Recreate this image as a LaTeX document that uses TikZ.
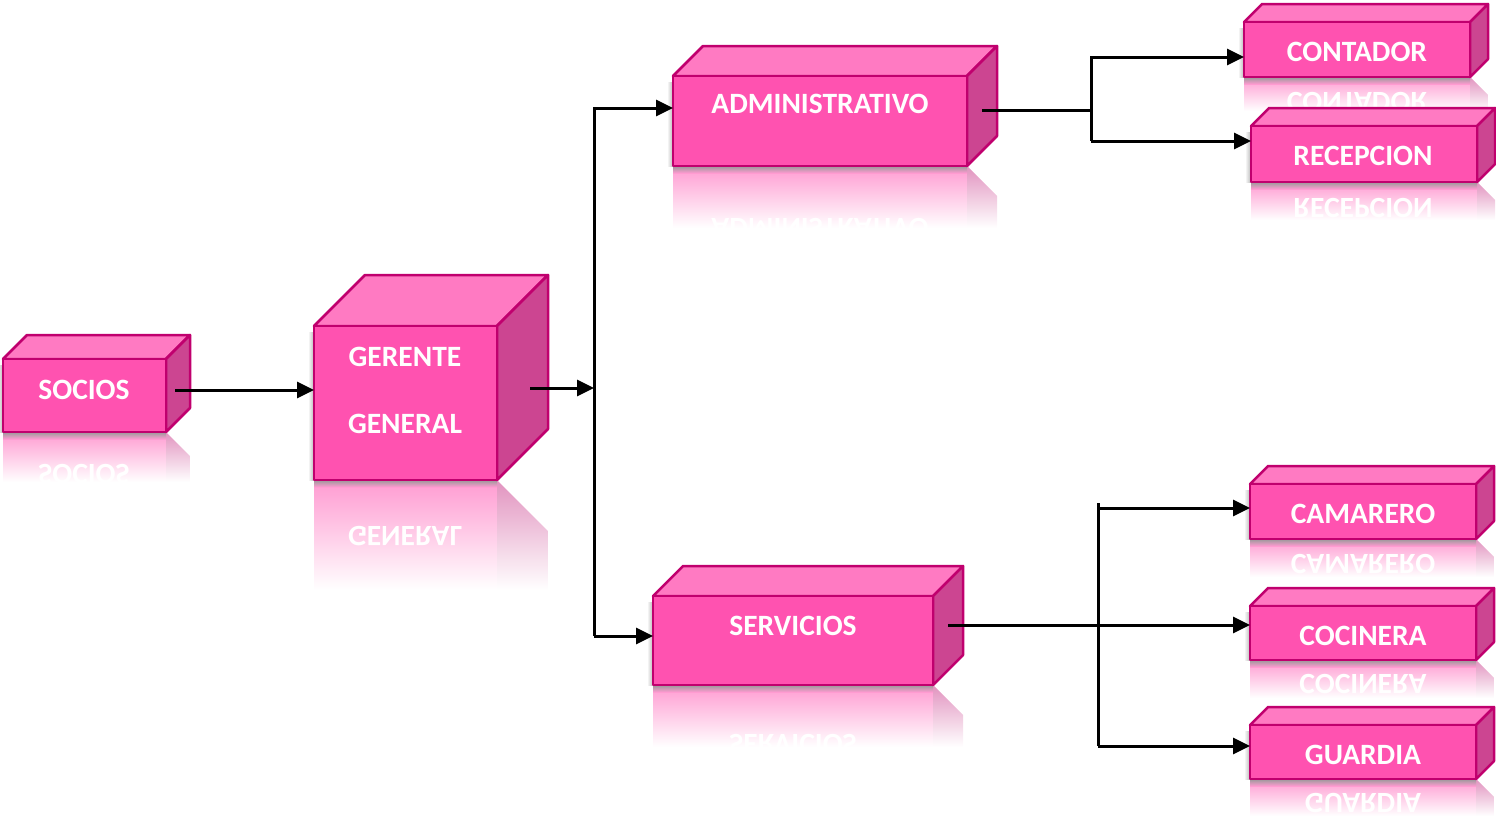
\documentclass[tikz,border=0pt]{standalone}
\usepackage{fontspec}
\setmainfont{Carlito}
\usetikzlibrary{arrows.meta}

\definecolor{frontc}{HTML}{FF52B0}
\definecolor{topc}{HTML}{FF7AC2}
\definecolor{sidec}{HTML}{CC4591}
\definecolor{edgec}{HTML}{C0006E}

\tikzset{
  face/.style={draw=edgec, line width=2.5pt, line join=round},
  lbl/.style={text=white, font=\bfseries\fontsize{29.5}{34}\selectfont, inner sep=0pt},
  mirrorlbl/.style={lbl, yscale=-1, transform shape},
  conn/.style={line width=3pt, draw=black, line join=miter},
  arr/.style={conn, -{Triangle[length=17pt,width=16pt]}},
}

% faded mirror image below a box: x1,y1,x2,y2,depth,fade length
\newcommand{\cubemirror}[6]{%
  \begin{scope}
    \clip (#1,#4) rectangle (#3,{2*#4-#2});
    \shade[top color=frontc!58, middle color=frontc!30, bottom color=white] (#1,#4) rectangle ({#3+#5},{#4+#6});
  \end{scope}
  \begin{scope}
    \clip (#3,#4) -- ({#3+#5},{#4+#5}) -- ({#3+#5},{2*#4-#2+#5}) -- (#3,{2*#4-#2}) -- cycle;
    \shade[top color=sidec!58, middle color=sidec!30, bottom color=white] (#1,#4) rectangle ({#3+#5},{#4+#6});
  \end{scope}
}

% box drawn as front, top and side faces: name,x1,y1,x2,y2,depth
\newcommand{\cubebody}[6]{%
  \shade[left color=white, right color=black!28] ({#2-6},{#3+6}) rectangle (#2,#5);
  \shade[top color=black!40, bottom color=frontc!58] (#2,#5) rectangle (#4,{#5+7});
  \path[face, fill=topc] (#2,#3) -- ({#2+#6},{#3-#6}) -- ({#4+#6},{#3-#6}) -- (#4,#3) -- cycle;
  \path[face, fill=sidec] (#4,#3) -- ({#4+#6},{#3-#6}) -- ({#4+#6},{#5-#6}) -- (#4,#5) -- cycle;
  \node[face, fill=frontc, inner sep=0pt, outer sep=0pt, anchor=north west,
        minimum width={#4-#2}, minimum height={#5-#3}] (#1) at (#2,#3) {};
}

\begin{document}
\begin{tikzpicture}[x=1pt, y=-1pt]
\useasboundingbox (0,0) rectangle (1496,817);

% reflections
\cubemirror{3}{359}{166}{432}{24}{50}
\cubemirror{314}{326}{497}{480}{51}{110}
\cubemirror{673}{76}{967}{166}{30}{62}
\cubemirror{1244}{22}{1470}{77}{18}{34}
\cubemirror{1251}{126}{1477}{182}{18}{38}
\cubemirror{653}{596}{933}{685}{30}{62}
\cubemirror{1250}{484}{1476}{539}{18}{38}
\cubemirror{1250}{606}{1476}{660}{18}{38}
\cubemirror{1250}{725}{1476}{779}{18}{37}

\node[mirrorlbl] (socm) at (84,474) {SOCIOS};
\node[mirrorlbl] (germ) at (405,536) {GENERAL};
\node[mirrorlbl] (admm) at (820,228) {ADMINISTRATIVO};
\node[mirrorlbl] (conm) at (1357,102) {CONTADOR};
\node[mirrorlbl] (recm) at (1363,208) {RECEPCION};
\node[mirrorlbl] (serm) at (793,744) {SERVICIOS};
\node[mirrorlbl] (camm) at (1363,564) {CAMARERO};
\node[mirrorlbl] (cocm) at (1363,684) {COCINERA};
\node[mirrorlbl] (guam) at (1363,803) {GUARDIA};

% boxes
\cubebody{soc}{3}{359}{166}{432}{24}
\cubebody{ger}{314}{326}{497}{480}{51}
\cubebody{adm}{673}{76}{967}{166}{30}
\cubebody{con}{1244}{22}{1470}{77}{18}
\cubebody{rec}{1251}{126}{1477}{182}{18}
\cubebody{ser}{653}{596}{933}{685}{30}
\cubebody{cam}{1250}{484}{1476}{539}{18}
\cubebody{coc}{1250}{606}{1476}{660}{18}
\cubebody{gua}{1250}{725}{1476}{779}{18}

% labels
\node[lbl] (soct) at (84,390) {SOCIOS};
\node[lbl] (gert1) at (405,357) {GERENTE};
\node[lbl] (gert2) at (405,424) {GENERAL};
\node[lbl] (admt) at (820,104) {ADMINISTRATIVO};
\node[lbl] (cont) at (1357,52) {CONTADOR};
\node[lbl] (rect) at (1363,156) {RECEPCION};
\node[lbl] (sert) at (793,626) {SERVICIOS};
\node[lbl] (camt) at (1363,514) {CAMARERO};
\node[lbl] (coct) at (1363,636) {COCINERA};
\node[lbl] (guat) at (1363,755) {GUARDIA};

% connectors
\coordinate (a1) at ([xshift=9pt,yshift=5.5pt]soc.east);
\draw[arr] (a1) -- (a1 -| ger.west);

\coordinate (a2) at ([xshift=33pt,yshift=15pt]ger.east);
\coordinate (bt) at (594,108);
\coordinate (bb) at (594,636);
\draw[arr] (a2) -- (a2 -| bb);
\draw[arr] (bb) -- (bt) -- (bt -| adm.west);
\draw[arr] (bb) -- (bb -| ser.west);

\coordinate (a3) at ([xshift=15pt,yshift=11pt]adm.east);
\coordinate (ct) at (1091,57);
\coordinate (cb) at (1091,141);
\draw[conn] (a3) -- (a3 -| ct);
\draw[arr] (cb) -- (ct) -- (ct -| con.west);
\draw[arr] (cb) -- (cb -| rec.west);

\coordinate (a4) at ([xshift=15pt,yshift=15.5pt]ser.east);
\coordinate (dt) at (1098,508);
\coordinate (db) at (1098,746);
\draw[arr] (a4) -- (a4 -| coc.west);
\draw[conn] ([yshift=5pt]dt) -- (db);
\draw[arr] (dt) -- (dt -| cam.west);
\draw[arr] (db) -- (db -| gua.west);
\end{tikzpicture}
\end{document}
